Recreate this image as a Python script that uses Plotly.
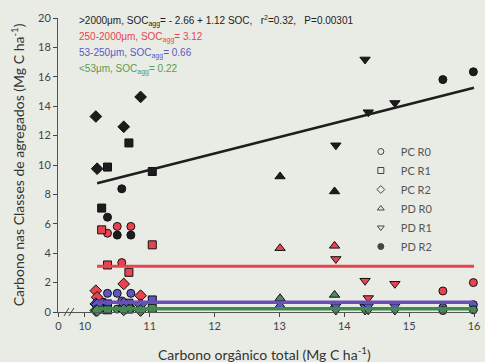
import plotly.graph_objects as go

# ---------------- data ----------------
classes = [">2000", "250-2000", "53-250", "<53"]

pc_r0_x = [10.35, 10.50, 10.57, 10.71]
pc_r0 = {">2000": [6.45, 5.23, 8.38, 5.23], "250-2000": [5.36, 5.82, 3.36, 5.82],
         "53-250": [1.27, 1.27, 0.75, 1.27], "<53": [0.25, 0.2, 0.2, 0.25]}

pc_r1_x = [10.26, 10.35, 10.68, 11.04]
pc_r1 = {">2000": [7.07, 9.86, 11.5, 9.56], "250-2000": [5.59, 3.2, 2.7, 4.57],
         "53-250": [0.65, 0.55, 0.6, 0.82], "<53": [0.2, 0.15, 0.2, 0.25]}

pc_r2_x = [10.17, 10.19, 10.60, 10.86]
pc_r2 = {">2000": [13.3, 9.75, 12.6, 14.63], "250-2000": [1.45, 1.0, 1.91, 1.11],
         "53-250": [0.55, 0.5, 0.6, 0.5], "<53": [0.1, 0.1, 0.15, 0.1]}

pd_r0_x = [13.01, 13.85]
pd_r0 = {">2000": [9.22, 8.2], "250-2000": [4.34, 4.5],
         "53-250": [0.45, 0.4], "<53": [0.93, 1.16]}

pd_r1_x = [13.87, 14.32, 14.37, 14.78]
pd_r1 = {">2000": [11.34, 17.18, 13.59, 14.22], "250-2000": [3.61, 2.13, 0.95, 1.92],
         "53-250": [0.4, 0.35, 0.4, 0.4], "<53": [0.1, 0.1, 0.12, 0.1]}

pd_r2_x = [15.52, 15.99]
pd_r2 = {">2000": [15.81, 16.34], "250-2000": [1.43, 2.0],
         "53-250": [0.3, 0.5], "<53": [0.1, 0.15]}

treatments = ["PC R0", "PC R1", "PC R2", "PD R0", "PD R1", "PD R2"]
treat_x = [pc_r0_x, pc_r1_x, pc_r2_x, pd_r0_x, pd_r1_x, pd_r2_x]
treat_y = [pc_r0, pc_r1, pc_r2, pd_r0, pd_r1, pd_r2]

# fitted models
reg_intercept, reg_slope = -2.66, 1.12
mean_250_2000 = 3.12
mean_53_250 = 0.66
mean_lt53 = 0.22
line_x = [10.19, 16.0]

x_ticks = [10, 11, 12, 13, 14, 15, 16]
y_ticks = list(range(0, 21, 2))

# ---------------- styles ----------------
bg = "#e9ece5"
class_color = {">2000": "#1c1c1c", "250-2000": "#e8434f", "53-250": "#5b57c4", "<53": "#4f8a5c"}
symbols = ["circle", "square", "diamond", "triangle-up", "triangle-down", "circle"]
legend_symbols = ["circle-open", "square-open", "diamond-open", "triangle-up-open",
                  "triangle-down-open", "circle"]
sizes = [8, 8, 9, 9, 9, 8]
FONT = "Lato"

fig = go.Figure()

# empty trace so that the short left x-axis segment (with the "0" tick) is drawn
fig.add_trace(go.Scatter(x=[None], y=[None], xaxis="x", yaxis="y", mode="markers",
                         showlegend=False, hoverinfo="skip"))

for t, xs, ys, sym, sz in zip(treatments, treat_x, treat_y, symbols, sizes):
    for c in classes:
        fig.add_trace(go.Scatter(
            x=xs, y=ys[c], mode="markers", xaxis="x2", yaxis="y",
            marker=dict(symbol=sym, size=sz, color=class_color[c],
                        line=dict(color="#111", width=1)),
            showlegend=False, cliponaxis=False, hoverinfo="skip"))

# fitted lines
fig.add_trace(go.Scatter(x=line_x, y=[reg_intercept + reg_slope * v for v in line_x],
                         mode="lines", xaxis="x2", line=dict(color="#1e1e1e", width=2.5),
                         showlegend=False))
fig.add_trace(go.Scatter(x=line_x, y=[mean_250_2000] * 2, mode="lines", xaxis="x2",
                         line=dict(color="#e8434f", width=3), showlegend=False))
fig.add_trace(go.Scatter(x=line_x, y=[mean_53_250] * 2, mode="lines", xaxis="x2",
                         line=dict(color="#6a4fb4", width=3.5), showlegend=False, cliponaxis=False))
fig.add_trace(go.Scatter(x=line_x, y=[mean_lt53] * 2, mode="lines", xaxis="x2",
                         line=dict(color="#3f8a4d", width=3.5), showlegend=False, cliponaxis=False))

# legend entries (treatment symbols)
for t, sym in zip(treatments, legend_symbols):
    fig.add_trace(go.Scatter(x=[None], y=[None], mode="markers", xaxis="x2", name=t,
                             marker=dict(symbol=sym, size=6, color="#444",
                                         line=dict(color="#444", width=1))))

# equation texts
eq_lines = [
    ("&gt;2000μm, SOC<sub>agg</sub>= - 2.66 + 1.12 SOC,   r<sup>2</sup>=0.32,   P=0.00301", "#222222"),
    ("250-2000μm, SOC<sub>agg</sub>= 3.12", "#e8434f"),
    ("53-250μm, SOC<sub>agg</sub>= 0.66", "#5b57c4"),
    ("&lt;53μm, SOC<sub>agg</sub>= 0.22", "#5a9a50"),
]
W, H, L, R, T, B = 485, 362, 58, 5, 18, 50
pw, ph = W - L - R, H - T - B
for i, (txt, col) in enumerate(eq_lines):
    py = 21 + i * 16.3
    fig.add_annotation(text=txt, xref="paper", yref="paper", x=(77 - L) / pw,
                       y=(H - B - py) / ph, xanchor="left", yanchor="middle",
                       showarrow=False, font=dict(family="Liberation Sans", size=10, color=col))

# axis titles
fig.add_annotation(text="Carbono orgânico total (Mg C ha<sup>-1</sup>)", xref="paper", yref="paper",
                   x=(266 - L) / pw, y=(H - B - 353) / ph, xanchor="center", yanchor="middle",
                   showarrow=False, font=dict(family=FONT, size=14, color="#333"))
fig.add_annotation(text="Carbono nas Classes de agregados (Mg C ha<sup>-1</sup>)", xref="paper", yref="paper",
                   x=(17 - L) / pw, y=(H - B - 165) / ph, xanchor="center", yanchor="middle",
                   textangle=-90, showarrow=False, font=dict(family=FONT, size=14, color="#333"))

# axis break marks
for x0 in (64, 69):
    fig.add_shape(type="line", xref="paper", yref="paper",
                  x0=(x0 - L) / pw, x1=(x0 + 5 - L) / pw,
                  y0=(H - B - 316) / ph, y1=(H - B - 308) / ph,
                  line=dict(color="#444", width=1))

d0 = 0.03
left_px = L + d0 * pw
px_per = (477 - 85) / 6.0
x2_lo = 10 - (85 - left_px) / px_per
x2_hi = 16 + (L + pw - 477) / px_per

axis_common = dict(showgrid=False, zeroline=False, showline=True, ticks="outside", ticklen=4,
                   tickcolor="#444", tickfont=dict(family=FONT, size=11, color="#444"))
fig.update_layout(
    width=W, height=H, margin=dict(l=L, r=R, t=T, b=B),
    paper_bgcolor=bg, plot_bgcolor=bg,
    xaxis=dict(domain=[0, d0], range=[-0.04, 1], tickvals=[0], ticktext=["0"], anchor="y",
               linecolor="#555", **axis_common),
    xaxis2=dict(domain=[d0, 1], range=[x2_lo, x2_hi], tickvals=x_ticks, anchor="y",
                linecolor="#555", **axis_common),
    yaxis=dict(range=[0, 20], tickvals=y_ticks, anchor="x", linecolor="#8c3b47", **axis_common),
    legend=dict(x=(363 - L) / pw, y=(H - B - 137) / ph, xanchor="left", yanchor="top",
                bgcolor="rgba(0,0,0,0)", font=dict(family=FONT, size=11, color="#555"),
                itemwidth=30, tracegroupgap=0),
)

fig.write_html("out.html")
